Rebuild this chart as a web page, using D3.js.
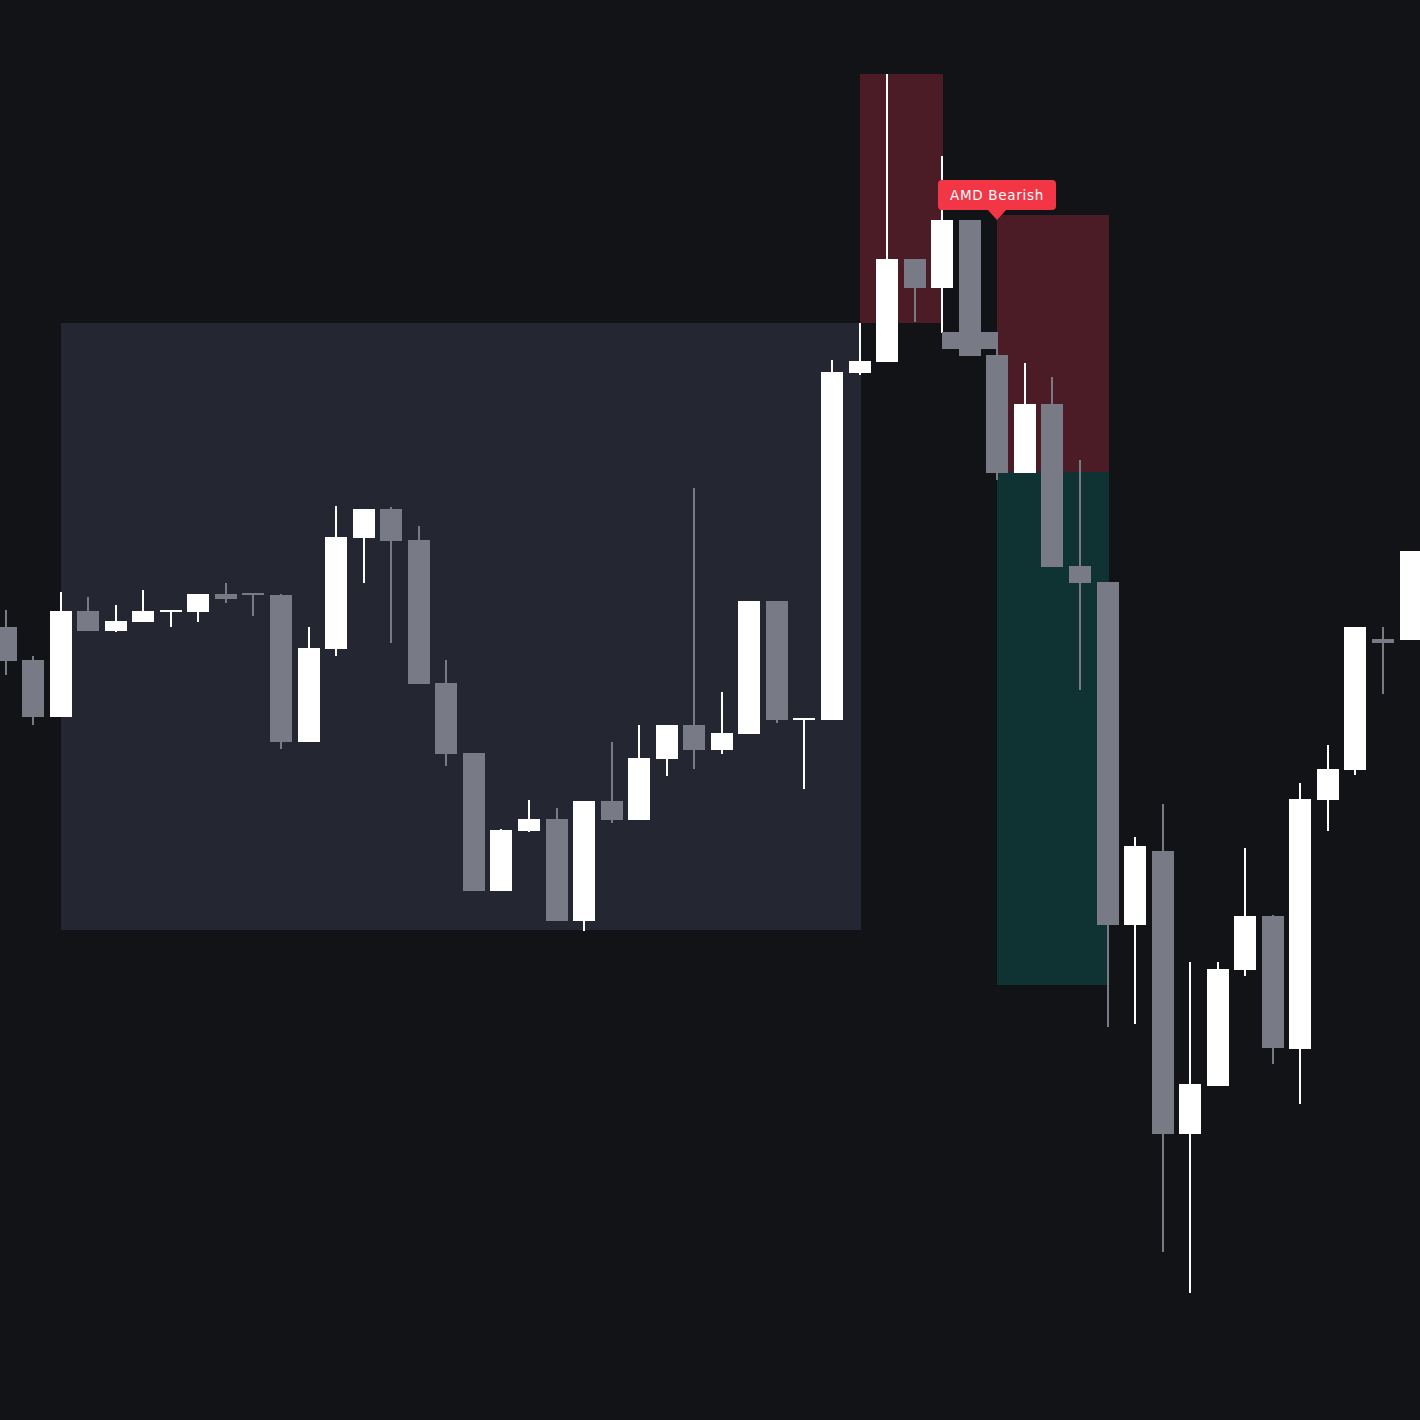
<!DOCTYPE html>
<html>
<head>
<meta charset="utf-8">
<script src="https://cdn.jsdelivr.net/npm/d3@7"></script>
<style>
    html, body { margin: 0; padding: 0; background: #121317; }
    svg { display: block; }
</style>
</head>
<body>
<svg class="chart"></svg>
<script>

// candle values, one entry per bar
var opens  = [79.3, 76.0, 70.3, 80.9, 78.9, 79.8, 80.8, 80.8, 82.6, 82.7,
              82.5, 67.8, 77.1, 88.2, 91.1, 88.0, 73.7, 66.7, 52.9, 58.9,
              60.1, 49.9, 61.9, 60.0, 66.1, 69.5, 67.0, 68.6, 81.9, 70.0,
              70.0, 104.7, 105.8, 116.1, 113.2, 120.0, 106.5, 94.7, 101.6, 85.4,
              83.8, 49.5, 56.9, 28.6, 33.4, 45.0, 50.4, 37.1, 62.0, 65.0,
              78.1, 78.0];
var highs  = [81.0, 76.4, 82.8, 82.3, 81.5, 83.0, 81.0, 82.6, 83.7, 82.7,
              82.6, 79.3, 91.4, 91.1, 91.3, 89.4, 76.0, 66.7, 59.1, 62.0,
              61.2, 61.9, 67.8, 69.5, 69.5, 93.2, 72.8, 81.9, 81.9, 70.2,
              106.0, 109.7, 134.6, 116.1, 126.4, 120.0, 108.0, 105.7, 104.3, 96.0,
              83.8, 58.3, 61.6, 45.8, 45.8, 57.2, 50.5, 63.7, 67.5, 79.3,
              79.3, 86.9];
var lows   = [74.5, 69.5, 70.3, 78.9, 78.8, 79.8, 79.3, 79.8, 81.7, 80.4,
              67.1, 67.8, 76.4, 83.7, 77.7, 73.6, 65.4, 52.9, 52.9, 58.8,
              49.9, 48.9, 59.7, 60.0, 64.4, 65.1, 66.6, 68.6, 69.7, 63.1,
              70.0, 104.5, 105.8, 109.8, 108.7, 106.4, 94.0, 94.7, 85.3, 73.0,
              39.3, 39.6, 16.8, 12.7, 33.4, 44.4, 35.6, 31.6, 58.9, 64.5,
              72.6, 78.0];
var closes = [75.9, 70.3, 80.9, 78.9, 79.9, 80.9, 81.0, 82.6, 82.1, 82.5,
              67.8, 77.2, 88.3, 91.1, 87.9, 73.6, 66.6, 52.9, 59.0, 60.1,
              49.9, 61.9, 60.0, 66.2, 69.5, 67.0, 68.7, 81.9, 70.0, 70.2,
              104.8, 105.9, 116.1, 113.2, 120.0, 106.4, 94.7, 101.6, 85.3, 83.7,
              49.5, 57.4, 28.6, 33.6, 45.1, 50.4, 37.2, 62.1, 65.1, 79.3,
              77.7, 86.9];

// zones: [first bar, last bar, top price, bottom price]
var rangeZone   = [2, 31, 109.7, 49.0];
var sweepZones  = [[31, 34, 134.6, 109.7], [36, 40, 120.5, 94.8]];
var targetZones = [[36, 40, 94.8, 43.5]];
var levelBar    = [34, 36, 108.8, 107.1];

var signalBar   = 36,
    signalPrice = 120.0,
    signalText  = 'AMD Bearish';

var width = 1420,
    height = 1420,
    barStep = 27.55,
    bodyWidth = 22,
    upColor = '#ffffff',
    downColor = '#787b86';

var candles = opens.map(function(o, i) {
    return { i: i, open: o, high: highs[i], low: lows[i], close: closes[i] };
});

var x = d3.scaleLinear()
    .domain([0, candles.length - 1])
    .range([5.5, 5.5 + barStep * (candles.length - 1)]);

var y = d3.scaleLinear()
    .domain([0, 142])
    .range([height, 0]);

var chart = d3.select('.chart')
    .attr('width', width)
    .attr('height', height)
    .attr('shape-rendering', 'crispEdges');

chart.append('rect')
    .attr('width', width)
    .attr('height', height)
    .attr('fill', '#121317');

function drawZone(z, color) {
    var x0 = Math.round(x(z[0])),
        x1 = Math.round(x(z[1])) + 1;
    chart.append('rect')
        .attr('x', x0)
        .attr('y', Math.round(y(z[2])))
        .attr('width', x1 - x0)
        .attr('height', Math.round(y(z[3])) - Math.round(y(z[2])))
        .attr('fill', color);
}

drawZone(rangeZone, '#242732');
sweepZones.forEach(function(z) { drawZone(z, '#4b1c25'); });
targetZones.forEach(function(z) { drawZone(z, '#0f3332'); });

var bar = chart.selectAll('g.candle')
    .data(candles)
    .enter().append('g')
    .attr('class', 'candle')
    .attr('fill', function(d) { return d.close >= d.open ? upColor : downColor; });

bar.append('rect')
    .attr('x', function(d) { return Math.round(x(d.i)) - 1; })
    .attr('y', function(d) { return Math.round(y(d.high)); })
    .attr('width', 2)
    .attr('height', function(d) { return Math.max(1, Math.round(y(d.low)) - Math.round(y(d.high))); });

bar.append('rect')
    .attr('x', function(d) { return Math.round(x(d.i)) - bodyWidth / 2; })
    .attr('y', function(d) { return Math.round(y(Math.max(d.open, d.close))); })
    .attr('width', bodyWidth)
    .attr('height', function(d) { return Math.max(2, Math.round(Math.abs(y(d.open) - y(d.close)))); });

drawZone(levelBar, downColor);

// signal label with pointer
var lx = Math.round(x(signalBar)),
    ly = Math.round(y(signalPrice)),
    label = chart.append('g').attr('shape-rendering', 'auto');

var txt = label.append('text')
    .attr('x', lx)
    .attr('y', ly - 25)
    .attr('text-anchor', 'middle')
    .attr('fill', '#ffffff')
    .attr('font-family', 'DejaVu Sans, sans-serif')
    .attr('font-size', 13.5)
    .attr('letter-spacing', 0.7)
    .attr('dy', '.35em')
    .text(signalText);

var tw = txt.node().getComputedTextLength();

label.insert('rect', 'text')
    .attr('x', lx - tw / 2 - 12)
    .attr('y', ly - 40)
    .attr('width', tw + 24)
    .attr('height', 30)
    .attr('rx', 4)
    .attr('fill', '#f23645');

label.insert('path', 'text')
    .attr('d', 'M' + (lx - 10) + ',' + (ly - 11) + 'L' + lx + ',' + ly + 'L' + (lx + 10) + ',' + (ly - 11) + 'Z')
    .attr('fill', '#f23645');

</script>
</body>
</html>
